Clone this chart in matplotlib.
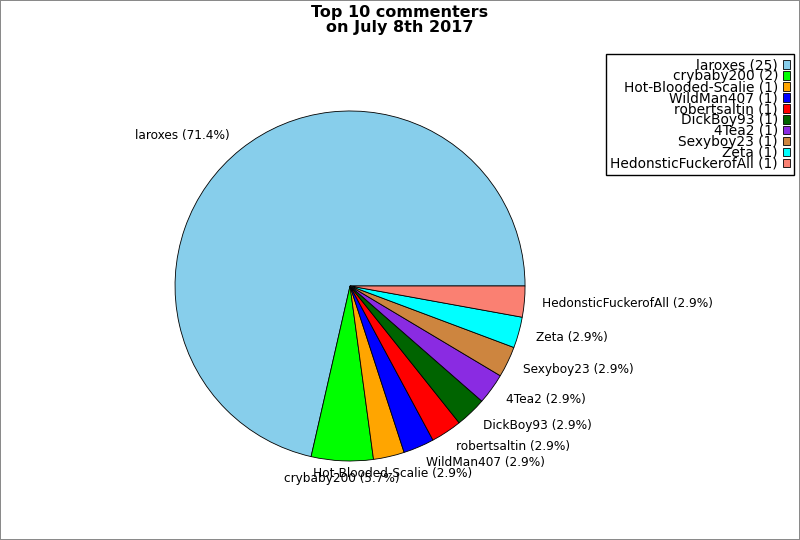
import matplotlib
matplotlib.use('Agg')
import matplotlib.pyplot as plt

# commenter data
names = ['laroxes', 'crybaby200', 'Hot-Blooded-Scalie', 'WildMan407', 'robertsaltin',
         'DickBoy93', '4Tea2', 'Sexyboy23', 'Zeta', 'HedonsticFuckerofAll']
counts = [25, 2, 1, 1, 1, 1, 1, 1, 1, 1]
colors = ['skyblue', 'lime', 'orange', 'blue', 'red',
          'darkgreen', 'blueviolet', 'peru', 'cyan', 'salmon']

total = sum(counts)
pie_labels = [f'{n} ({100.0 * c / total:.1f}%)' for n, c in zip(names, counts)]
legend_labels = [f'{n} ({c})' for n, c in zip(names, counts)]

fig = plt.figure(figsize=(8, 5.4), dpi=100, edgecolor='#8a8a8a', linewidth=1.4)
ax = fig.add_axes([0.1641, 0.0653, 0.5469, 0.8102])

wedges, texts = ax.pie(counts, labels=pie_labels, colors=colors, startangle=0,
                       wedgeprops={'edgecolor': 'black', 'linewidth': 0.6},
                       textprops={'fontsize': 8.7})
# labels near the bottom of the pie sit centred under their slice
for t in texts:
    x, y = t.get_position()
    if abs(x) < 0.3:
        t.set_horizontalalignment('center')

ax.set_aspect('equal')
ax.set_xlim(-1.25, 1.25)
ax.set_ylim(-1.25, 1.25)

fig.legend(wedges, legend_labels, loc='upper right', bbox_to_anchor=(0.9925, 0.9),
           fontsize=9.9, markerfirst=False, labelspacing=-0.22, handlelength=0.5,
           handleheight=0.6, handletextpad=0.36, borderpad=0.3, borderaxespad=0,
           fancybox=False, edgecolor='black', framealpha=1)

fig.suptitle('Top 10 commenters\non July 8th 2017', fontsize=11.5, fontweight='bold',
             y=0.99, linespacing=0.95)

fig.savefig('out.png', dpi=100, edgecolor=fig.get_edgecolor())
